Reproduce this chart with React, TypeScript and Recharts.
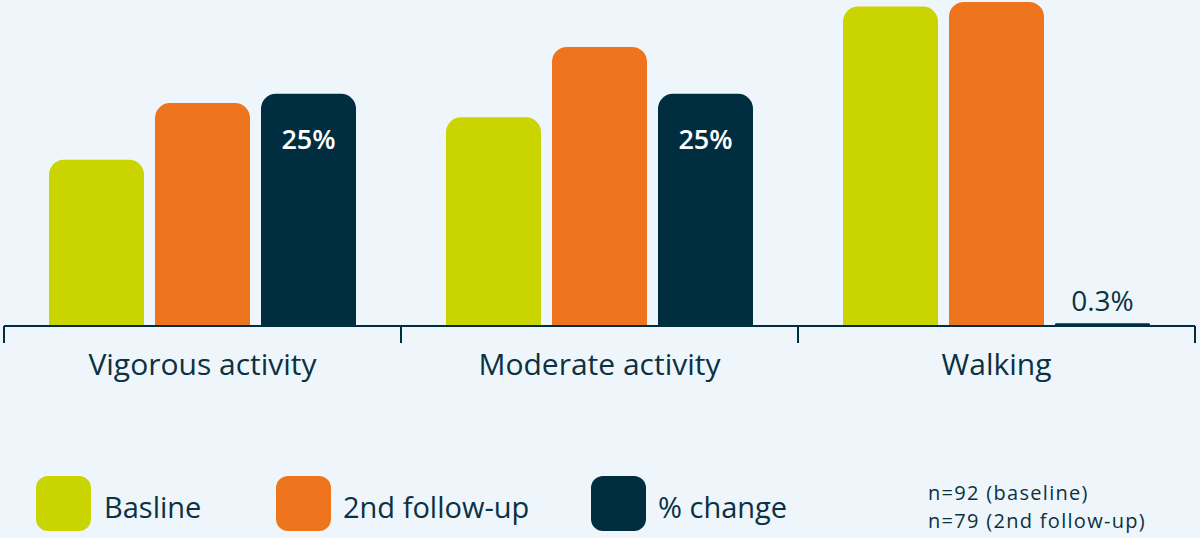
import { BarChart, Bar, XAxis, YAxis, LabelList } from "recharts";

const categories = ["Vigorous activity", "Moderate activity", "Walking"];
const baseline = [51, 64, 98];
const followUp = [68.4, 85.6, 99.4];
const pctChange = [25, 25, 0.3];
const sampleNotes = ["n=92 (baseline)", "n=79 (2nd follow-up)"];

const LIME = "#C9D400";
const ORANGE = "#EE741E";
const NAVY = "#002E40";
const TEXT = "#0B3142";
const BG = "#EEF6FC";
const FONT = "'Open Sans', sans-serif";

const legendItems = [
  { name: "Basline", color: LIME, left: 36, textLeft: 104 },
  { name: "2nd follow-up", color: ORANGE, left: 276, textLeft: 343 },
  { name: "% change", color: NAVY, left: 591, textLeft: 658 },
];

const data = categories.map((name, i) => ({
  name,
  baseline: baseline[i],
  followUp: followUp[i],
  change: pctChange[i],
}));

function CategoryTick(props: any) {
  const { x, y, payload, index } = props;
  const half = payload?.offset ?? 198.5;
  return (
    <g>
      <line x1={x - half} y1={y - 8} x2={x - half} y2={y + 9} stroke={NAVY} strokeWidth={2} />
      {index === categories.length - 1 && (
        <line x1={x + half} y1={y - 8} x2={x + half} y2={y + 9} stroke={NAVY} strokeWidth={2} />
      )}
      <text x={x} y={y + 33} textAnchor="middle" dominantBaseline="middle" fill={TEXT} fontSize={30} fontFamily={FONT}>
        {payload.value}
      </text>
    </g>
  );
}

function ChangeLabel(props: any) {
  const { x, y, width, height, value } = props;
  if (value >= 5) {
    return (
      <text x={x + width / 2} y={y + 48} textAnchor="middle" dominantBaseline="middle" fill="#fff" fontSize={27} fontWeight={600} fontFamily={FONT}>
        {value}%
      </text>
    );
  }
  return (
    <text x={x + width / 2} y={y + height - 22} textAnchor="middle" dominantBaseline="middle" fill={TEXT} fontSize={28} fontWeight={500} fontFamily={FONT}>
      {value}%
    </text>
  );
}

export default function App() {
  return (
    <div style={{ position: "absolute", left: 0, top: 0, width: 1200, height: 538, background: BG, fontFamily: FONT }}>
      <BarChart width={1200} height={538} data={data} margin={{ top: 0, right: 5, left: 4, bottom: 182 }} barCategoryGap={45} barGap={11}>
        <YAxis yAxisId="v" hide domain={[0, 100]} />
        <YAxis yAxisId="pct" hide domain={[0, 35.1]} />
        <XAxis
          dataKey="name"
          axisLine={{ stroke: NAVY, strokeWidth: 2 }}
          tickLine={false}
          tick={<CategoryTick />}
          interval={0}
        />
        <Bar yAxisId="v" dataKey="baseline" fill={LIME} radius={[15, 15, 0, 0]} isAnimationActive={false} />
        <Bar yAxisId="v" dataKey="followUp" fill={ORANGE} radius={[15, 15, 0, 0]} isAnimationActive={false} />
        <Bar yAxisId="pct" dataKey="change" fill={NAVY} radius={[15, 15, 0, 0]} isAnimationActive={false}>
          <LabelList dataKey="change" content={<ChangeLabel />} />
        </Bar>
      </BarChart>
      {legendItems.map((item) => (
        <div key={item.name}>
          <div style={{ position: "absolute", left: item.left, top: 476, width: 55, height: 55, borderRadius: 12, background: item.color }} />
          <div style={{ position: "absolute", left: item.textLeft, top: 487, fontSize: 29, color: TEXT, lineHeight: "40px", whiteSpace: "nowrap" }}>
            {item.name}
          </div>
        </div>
      ))}
      <div style={{ position: "absolute", left: 928, top: 479, fontSize: 20, letterSpacing: 1.3, color: TEXT, lineHeight: "28px", whiteSpace: "nowrap" }}>
        {sampleNotes.map((s) => (
          <div key={s}>{s}</div>
        ))}
      </div>
    </div>
  );
}
